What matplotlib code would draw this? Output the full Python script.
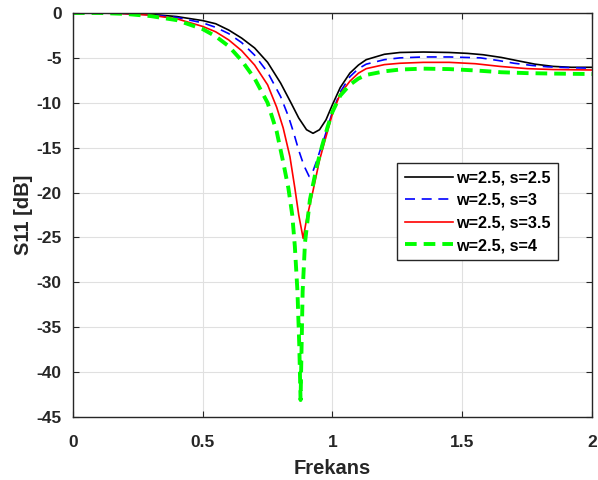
import matplotlib
matplotlib.use("Agg")
import matplotlib.pyplot as plt

# S11 readings (dB) against frequency, one set per slot spacing
freq_s25 = [0, 0.1, 0.2, 0.3, 0.4, 0.5, 0.55, 0.6, 0.65, 0.7, 0.75, 0.8, 0.84, 0.87,
            0.9, 0.925, 0.95, 0.975, 1.0, 1.03, 1.067, 1.1, 1.13, 1.2, 1.26, 1.35,
            1.45, 1.52, 1.58, 1.65, 1.71, 1.78, 1.85, 1.92, 2.0]
s11_s25 = [0, 0, -0.05, -0.15, -0.4, -0.85, -1.2, -1.9, -2.8, -3.9, -5.5, -7.8, -10.0, -11.7,
           -13.0, -13.4, -13.0, -11.9, -10.2, -8.3, -6.7, -5.8, -5.2, -4.6, -4.4, -4.35,
           -4.4, -4.5, -4.65, -4.95, -5.3, -5.7, -5.95, -6.05, -6.05]

freq_s3 = [0, 0.1, 0.2, 0.3, 0.4, 0.5, 0.55, 0.6, 0.65, 0.7, 0.75, 0.8, 0.83, 0.85,
           0.87, 0.89, 0.91, 0.925, 0.94, 0.96, 0.97, 1.0, 1.03, 1.067, 1.1, 1.13,
           1.2, 1.26, 1.35, 1.45, 1.57, 1.64, 1.7, 1.77, 1.83, 1.92, 2.0]
s11_s3 = [0, 0, -0.05, -0.2, -0.5, -1.1, -1.6, -2.3, -3.3, -4.7, -6.6, -9.3, -11.5, -13.3,
          -15.3, -17.0, -18.2, -17.6, -16.4, -14.6, -13.8, -11.0, -8.8, -7.1, -6.2, -5.7,
          -5.2, -5.0, -4.9, -4.9, -5.0, -5.3, -5.6, -5.85, -6.0, -6.1, -6.15]

freq_s35 = [0, 0.1, 0.2, 0.3, 0.4, 0.5, 0.55, 0.6, 0.65, 0.7, 0.75, 0.785, 0.81, 0.836,
            0.855, 0.87, 0.887, 0.9, 0.925, 0.95, 0.97, 1.0, 1.03, 1.067, 1.1, 1.13,
            1.2, 1.26, 1.35, 1.45, 1.55, 1.645, 1.75, 1.85, 2.0]
s11_s35 = [0, 0, -0.08, -0.25, -0.65, -1.5, -2.1, -3.0, -4.2, -5.8, -8.0, -10.5, -12.8, -16.0,
           -19.5, -22.5, -25.1, -23.0, -19.8, -16.4, -14.3, -11.2, -9.0, -7.6, -6.7, -6.2,
           -5.75, -5.6, -5.5, -5.5, -5.65, -5.95, -6.2, -6.3, -6.35]

freq_s4 = [0, 0.1, 0.2, 0.3, 0.4, 0.5, 0.55, 0.6, 0.65, 0.7, 0.75, 0.785, 0.81, 0.83,
           0.845, 0.855, 0.865, 0.872, 0.877, 0.885, 0.894, 0.913, 0.94, 0.96, 0.98,
           1.0, 1.03, 1.067, 1.1, 1.13, 1.2, 1.26, 1.35, 1.45, 1.55, 1.65, 1.75, 1.85, 2.0]
s11_s4 = [0, 0, -0.1, -0.35, -0.8, -1.8, -2.6, -3.7, -5.3, -7.3, -10.0, -13.2, -16.6, -19.5,
          -22.5, -26.0, -31.0, -37.0, -43.1, -31.0, -25.6, -20.8, -17.0, -14.8, -12.8,
          -11.0, -9.2, -8.0, -7.3, -6.9, -6.5, -6.3, -6.2, -6.25, -6.4, -6.6, -6.7, -6.75, -6.8]

labels = ["w=2.5, s=2.5", "w=2.5, s=3", "w=2.5, s=3.5", "w=2.5, s=4"]

plt.rcParams['font.family'] = ['Liberation Sans', 'DejaVu Sans']
plt.rcParams['font.weight'] = 'bold'
plt.rcParams['axes.unicode_minus'] = False

fig = plt.figure(figsize=(5.98, 4.8), dpi=100)
ax = fig.add_axes([0.122, 0.131, 0.868, 0.842])

ax.plot(freq_s25, s11_s25, color='black', lw=1.2, label=labels[0])
ax.plot(freq_s3, s11_s3, color='#0000ff', lw=1.2, ls=(0, (6, 4)), label=labels[1])
ax.plot(freq_s35, s11_s35, color='#ff0000', lw=1.2, label=labels[2])
ax.plot(freq_s4, s11_s4, color='#00ff00', lw=2.8, ls=(0, (3, 1.8)), label=labels[3])

ax.set_xlim(0, 2)
ax.set_ylim(-45, 0)
ax.set_xticks([0, 0.5, 1, 1.5, 2])
ax.set_xticklabels(['0', '0.5', '1', '1.5', '2'])
ax.set_yticks(range(-45, 1, 5))
ax.grid(True, color='#e0e0e0', lw=0.8)
ax.set_axisbelow(True)
ax.tick_params(direction='in', top=True, right=True, labelsize=12.5, colors='#262626',
               length=4)
ax.tick_params(axis='x', pad=13)
ax.tick_params(axis='y', pad=8)
for sp in ax.spines.values():
    sp.set_color('#262626')
    sp.set_linewidth(1.0)

ax.set_xlabel('Frekans', fontsize=14.5, fontweight='bold', color='#262626', labelpad=6)
ax.set_ylabel('S11 [dB]', fontsize=14.5, fontweight='bold', color='#262626', labelpad=2.5)

leg = ax.legend(loc='upper left', bbox_to_anchor=(0.609, 0.649), fontsize=11.7,
                handlelength=3.0, handletextpad=0.15, borderpad=0.45,
                labelspacing=0.47, fancybox=False, framealpha=1)
leg.get_frame().set_edgecolor('#262626')
leg.get_frame().set_linewidth(1.0)

plt.savefig('out.png', dpi=100)
